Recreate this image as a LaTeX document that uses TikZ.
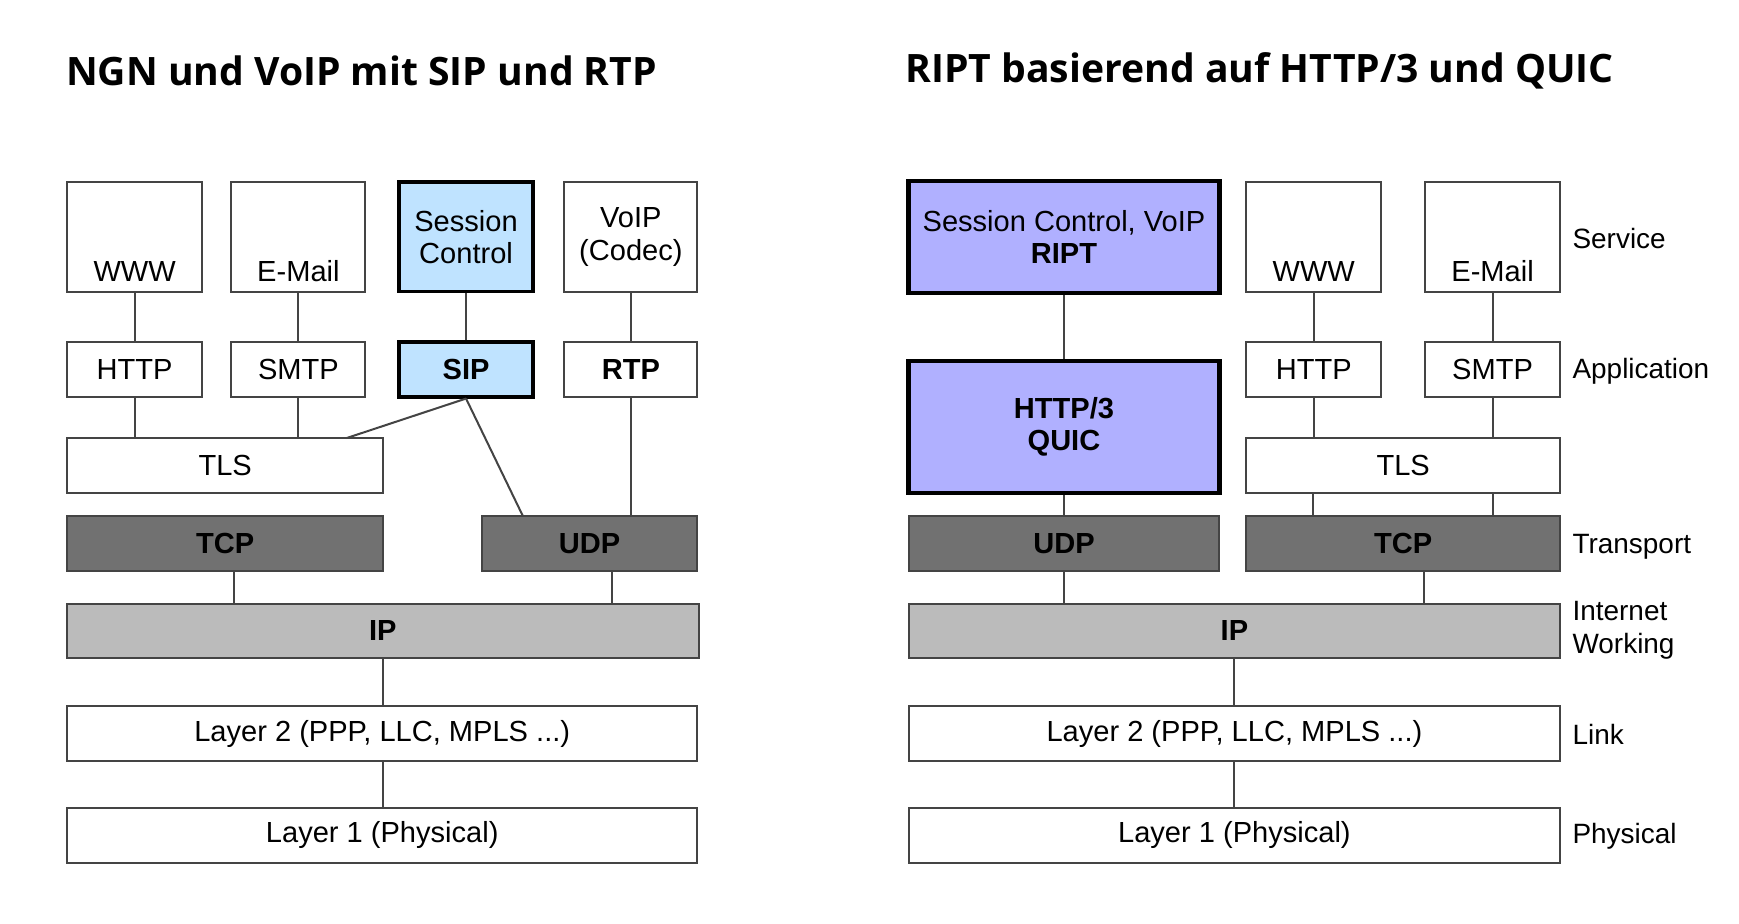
\documentclass[tikz,border=0pt]{standalone}
\usepackage{fontspec}
\setmainfont{Liberation Sans}
\newfontfamily\titlefont{Open Sans}
\definecolor{lblue}{HTML}{BFE3FF}
\definecolor{purp}{HTML}{B0B0FF}
\definecolor{dgray}{HTML}{717171}
\definecolor{lgray}{HTML}{BBBBBB}
\definecolor{edge}{HTML}{444444}
\newcommand\bx[7]{\node[box,#6,minimum width={(#4-#2)*0.5pt},minimum height={(#5-#3)*0.5pt}] (#1) at ({(#2+#4)/2},{(#3+#5)/2}) {#7};}
\begin{document}
\begin{tikzpicture}[x=0.5pt,y=-0.5pt,
 box/.style={draw=edge,line width=0.9pt,fill=white,inner sep=0pt,align=center,font=\fontsize{13}{14.5}\selectfont},
 low/.style={label={[anchor=south,yshift=1.5pt,font=\fontsize{13}{14.5}\selectfont]south:#1}},
 thk/.style={draw=black,line width=1.6pt},
 vthk/.style={draw=black,line width=2pt},
 b/.style={font=\fontsize{13}{14.5}\selectfont\bfseries},
 ln/.style={draw=edge,line width=0.9pt},
 lab/.style={anchor=west,align=left,font=\fontsize{12.5}{15}\selectfont}]
\useasboundingbox (0,0) rectangle (1556,826);
\node[anchor=west,font=\titlefont\fontsize{17.5}{21}\selectfont\bfseries] (t1) at (52,63) {NGN und VoIP mit SIP und RTP};
\node[anchor=west,font=\titlefont\fontsize{17.5}{21}\selectfont\bfseries] (t2) at (803,63) {RIPT basierend auf HTTP/3 und QUIC};
% left
\bx{www}{60}{163}{181}{261}{low=WWW}{}
\bx{mail}{207}{163}{327}{261}{low=E-Mail}{}
\bx{sc}{357}{163}{477}{261}{thk,fill=lblue}{Session\\Control}
\bx{voip}{505}{163}{624}{261}{}{VoIP\\(Codec)}
\bx{http}{60}{306}{181}{355}{}{HTTP}
\bx{smtp}{207}{306}{327}{355}{}{SMTP}
\bx{sip}{357}{306}{477}{355}{thk,fill=lblue,b}{SIP}
\bx{rtp}{505}{306}{624}{355}{b}{RTP}
\bx{tls}{60}{392}{343}{441}{}{TLS}
\bx{tcp}{60}{462}{343}{511}{fill=dgray,b}{TCP}
\bx{udp}{431}{462}{624}{511}{fill=dgray,b}{UDP}
\bx{ip}{60}{540}{625}{589}{fill=lgray,b}{IP}
\bx{ltwo}{60}{632}{624}{681}{}{Layer 2 (PPP, LLC, MPLS ...)}
\bx{lone}{60}{723}{624}{772}{}{Layer 1 (Physical)}
\draw[ln] (www) -- (http); \draw[ln] (mail) -- (smtp);
\draw[ln] (sc) -- (sip); \draw[ln] (voip) -- (rtp);
\draw[ln] (http) -- (http|-tls.north); \draw[ln] (smtp) -- (smtp|-tls.north);
\coordinate (tlsA) at (310,392); \coordinate (udpA) at (468,462);
\draw[ln] (sip.south) -- (tlsA); \draw[ln] (sip.south) -- (udpA);
\draw[ln] (rtp) -- (rtp|-udp.north);
\draw[ln] (209,511) -- (209,540); \draw[ln] (548,511) -- (548,540);
\draw[ln] (343,589) -- (343,632); \draw[ln] (343,681) -- (343,723);
% right
\bx{ript}{813}{162}{1091}{262}{vthk,fill=purp}{Session Control, VoIP\\\textbf{RIPT}}
\bx{hq}{813}{323}{1091}{441}{vthk,fill=purp,b}{HTTP/3\\QUIC}
\bx{www2}{1115}{163}{1236}{261}{low=WWW}{}
\bx{mail2}{1275}{163}{1396}{261}{low=E-Mail}{}
\bx{http2}{1115}{306}{1236}{355}{}{HTTP}
\bx{smtp2}{1275}{306}{1396}{355}{}{SMTP}
\bx{tls2}{1115}{392}{1396}{441}{}{TLS}
\bx{udp2}{813}{462}{1091}{511}{fill=dgray,b}{UDP}
\bx{tcp2}{1115}{462}{1396}{511}{fill=dgray,b}{TCP}
\bx{ip2}{813}{540}{1396}{589}{fill=lgray,b}{IP}
\bx{ltwo2}{813}{632}{1396}{681}{}{Layer 2 (PPP, LLC, MPLS ...)}
\bx{lone2}{813}{723}{1396}{772}{}{Layer 1 (Physical)}
\draw[ln] (ript) -- (hq); \draw[ln] (hq) -- (udp2);
\draw[ln] (www2) -- (http2); \draw[ln] (mail2) -- (smtp2);
\draw[ln] (http2) -- (http2|-tls2.north); \draw[ln] (smtp2) -- (smtp2|-tls2.north);
\draw[ln] (1175,441) -- (1175,462); \draw[ln] (1336,441) -- (1336,462);
\draw[ln] (udp2) -- (udp2|-ip2.north); \draw[ln] (1274,511) -- (1274,540);
\draw[ln] (ip2.south) -- (ltwo2.north); \draw[ln] (ltwo2.south) -- (lone2.north);
\node[lab] (l1) at (1400,213) {Service};
\node[lab] (l2) at (1400,332) {Application};
\node[lab] (l3) at (1400,489) {Transport};
\node[lab] (l4) at (1400,564) {Internet\\Working};
\node[lab] (l5) at (1400,657) {Link};
\node[lab] (l6) at (1400,748) {Physical};
\end{tikzpicture}
\end{document}
